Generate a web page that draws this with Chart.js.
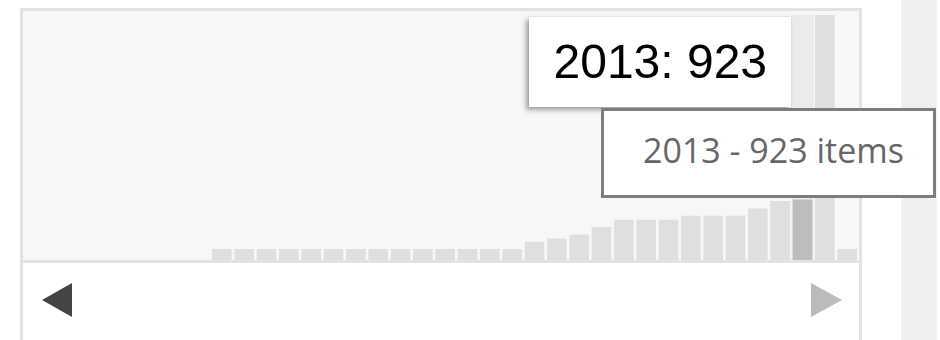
<!DOCTYPE html>
<html>
<head>
<meta charset="utf-8">
<title>Items per year</title>
<script src="https://cdn.jsdelivr.net/npm/chart.js@4/dist/chart.umd.min.js"></script>
<style>
  html, body { margin: 0; padding: 0; background: #fff; width: 940px; height: 340px; overflow: hidden; }
  #side { position: absolute; left: 901px; top: 0; width: 36px; height: 340px; background: #efefef; }
  #frame { position: absolute; left: 20px; top: 8px; width: 842px; height: 335px; box-sizing: border-box;
           border: 3px solid #e2e2e2; background: #fff; }
  #band { position: absolute; left: 0; top: 0; width: 836px; height: 249px; background: #f7f7f7;
          border-bottom: 3px solid #e3e3e3; }
  #chart { position: absolute; left: 23px; top: 11px; }
  .arrow { position: absolute; width: 0; height: 0; filter: blur(0.7px);
           border-top: 17.5px solid transparent; border-bottom: 17.5px solid transparent; }
  #prev { left: 42px; top: 283px; border-right: 30px solid #444; }
  #next { left: 811px; top: 283px; border-left: 31px solid #bbb; }
  #tip { position: absolute; top: 17px; width: 262px; height: 90px; background: #fff; display: none;
         font-family: "Liberation Sans", Arial, sans-serif; font-size: 48px; line-height: 90px;
         text-align: center; color: #000; white-space: nowrap;
         box-shadow: -3px 3px 5px rgba(0,0,0,0.35), 0 0 2px rgba(0,0,0,0.15); }
  #hint { position: absolute; left: 601px; top: 108px; width: 335px; height: 90px; box-sizing: border-box;
          border: 3px solid #7d7d7d; background: #fff; }
  #hint span { position: absolute; left: 39px; top: 22px; font-family: "Open Sans", sans-serif;
               font-size: 34px; line-height: 34px; color: #666; white-space: nowrap; }
</style>
</head>
<body>
<div id="side"></div>
<div id="frame"><div id="band"></div></div>
<canvas id="chart" width="836" height="249"></canvas>
<div class="arrow" id="prev"></div>
<div class="arrow" id="next"></div>
<div id="tip"></div>
<div id="hint"><span></span></div>

<script>
// Number of catalogue items per publication year
const YEARS = [1987, 1988, 1989, 1990, 1991, 1992, 1993, 1994, 1995, 1996,
               1997, 1998, 1999, 2000, 2001, 2002, 2003, 2004, 2005, 2006,
               2007, 2008, 2009, 2010, 2011, 2012, 2013, 2014, 2015];
const ITEMS = [168, 168, 168, 168, 168, 168, 168, 168, 168, 168,
               168, 168, 168, 168, 280, 330, 390, 505, 615, 615,
               615, 675, 675, 675, 785, 900, 923, 3740, 168];
const Y_MAX = 3800;
const SELECTED_YEAR = 2013;

const BAR_COLOR = '#dfdfdf';
const BAR_SELECTED = '#bdbdbd';
const COLUMN_SELECTED = '#ebebeb';

const selectedIndex = YEARS.indexOf(SELECTED_YEAR);

// Light full-height column behind the selected year's slot
const selectedColumn = {
  id: 'selectedColumn',
  beforeDatasetsDraw(chart) {
    const xs = chart.scales.x, ys = chart.scales.y;
    const slot = xs.width / chart.data.labels.length;
    const cx = xs.getPixelForValue(selectedIndex);
    const top = ys.getPixelForValue(Math.max(...ITEMS));
    const ctx = chart.ctx;
    ctx.save();
    ctx.fillStyle = COLUMN_SELECTED;
    ctx.fillRect(cx - slot / 2, top, slot, ys.bottom - top);
    ctx.restore();
  }
};

function externalTip({ chart, tooltip }) {
  const el = document.getElementById('tip');
  if (!tooltip.dataPoints || !tooltip.dataPoints.length) { el.style.display = 'none'; return; }
  const dp = tooltip.dataPoints[0];
  el.textContent = dp.label + ': ' + dp.formattedValue;
  el.style.display = 'block';
  const slot = chart.scales.x.width / chart.data.labels.length;
  const slotLeft = chart.canvas.offsetLeft + dp.element.x - slot / 2;
  el.style.left = (slotLeft - el.offsetWidth) + 'px';
}

const chart = new Chart(document.getElementById('chart'), {
  type: 'bar',
  data: {
    labels: YEARS.map(String),
    datasets: [{
      data: ITEMS,
      backgroundColor: ctx => ctx.dataIndex === selectedIndex ? BAR_SELECTED : BAR_COLOR,
      hoverBackgroundColor: ctx => ctx.dataIndex === selectedIndex ? BAR_SELECTED : BAR_COLOR,
      borderWidth: 0,
      barPercentage: 0.88,
      categoryPercentage: 1
    }]
  },
  options: {
    responsive: false,
    devicePixelRatio: 1,
    animation: false,
    events: [],
    layout: { padding: { left: 187.7, right: 0.7, top: 0, bottom: 0 } },
    scales: {
      x: { display: false, offset: true, grid: { display: false } },
      y: { display: false, min: 0, max: Y_MAX, grid: { display: false } }
    },
    plugins: {
      legend: { display: false },
      tooltip: { enabled: false, external: externalTip }
    }
  },
  plugins: [selectedColumn]
});

const bar = chart.getDatasetMeta(0).data[selectedIndex];
chart.tooltip.setActiveElements([{ datasetIndex: 0, index: selectedIndex }], { x: bar.x, y: bar.y });
chart.update();

document.querySelector('#hint span').textContent =
  YEARS[selectedIndex] + ' - ' + ITEMS[selectedIndex] + ' items';
</script>
</body>
</html>
